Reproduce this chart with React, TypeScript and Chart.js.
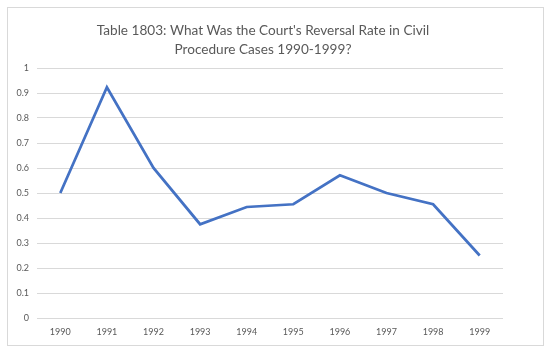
import React, { useEffect, useRef } from "react";
import { Chart, registerables } from "chart.js";

Chart.register(...registerables);

const titleLines = [
  "Table 1803: What Was the Court's Reversal Rate in Civil",
  "Procedure Cases 1990-1999?",
];
const years = ["1990", "1991", "1992", "1993", "1994", "1995", "1996", "1997", "1998", "1999"];
const reversalRate = [0.5, 0.923, 0.6, 0.375, 0.444, 0.455, 0.571, 0.5, 0.455, 0.25];

export default function App() {
  const ref = useRef<HTMLCanvasElement | null>(null);
  useEffect(() => {
    if (!ref.current) return;
    const chart = new Chart(ref.current, {
      type: "line",
      data: {
        labels: years,
        datasets: [
          {
            data: reversalRate,
            borderColor: "#4472C4",
            borderWidth: 2.75,
            pointRadius: 0,
            tension: 0,
            fill: false,
            yAxisID: "y",
          },
        ],
      },
      options: {
        responsive: false,
        animation: false,
        layout: { padding: { left: 0, right: 24, top: 0, bottom: 8 } },
        plugins: {
          legend: { display: false },
          tooltip: { enabled: false },
          title: {
            display: true,
            text: titleLines,
            color: "#595959",
            font: { family: "Lato", size: 13.6, weight: "normal", lineHeight: 19 / 13.6 },
            padding: { top: 21, bottom: 9 },
          },
        },
        scales: {
          x: {
            offset: true,
            grid: { display: false, drawTicks: false },
            border: { display: false },
            ticks: { color: "#595959", font: { family: "Lato", size: 9 }, padding: 9, maxRotation: 0 },
            afterFit: (s: any) => {
              s.height = 26;
            },
          },
          y: {
            min: 0,
            max: 1,
            ticks: {
              stepSize: 0.1,
              color: "#595959",
              font: { family: "Lato", size: 9 },
              padding: 8,
              callback: (v: any) => String(Math.round(Number(v) * 10) / 10),
            },
            grid: { color: "#d9d9d9", drawTicks: false },
            border: { display: false },
            afterFit: (s: any) => {
              s.width = 37;
            },
          },
          y2: {
            position: "right",
            display: true,
            grid: { display: false, drawTicks: false },
            border: { display: false },
            ticks: { display: false },
            afterFit: (s: any) => {
              s.width = 23;
            },
          },
        },
      },
    });
    return () => chart.destroy();
  }, []);
  return (
    <div style={{ position: "absolute", left: 0, top: 0, width: 550, height: 352, background: "#fff" }}>
      <canvas ref={ref} width={550} height={352} style={{ position: "absolute", left: 0, top: 0 }} />
      <div
        style={{
          position: "absolute",
          left: 7,
          top: 7,
          width: 535,
          height: 337,
          border: "1px solid #d9d9d9",
          pointerEvents: "none",
        }}
      />
    </div>
  );
}
